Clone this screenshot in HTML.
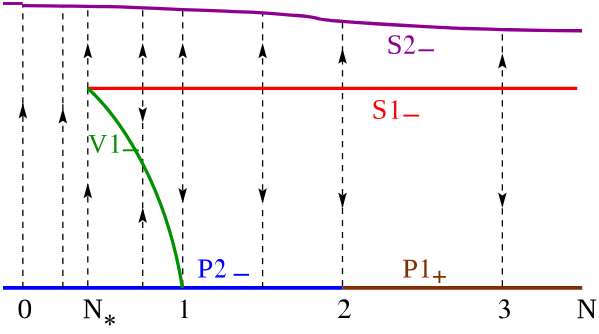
<!DOCTYPE html>
<html><head><meta charset="utf-8"><title>diagram</title>
<style>html,body{margin:0;padding:0;background:#fff;}body{width:599px;height:334px;overflow:hidden;font-family:"Liberation Serif",serif;}svg{display:block;}</style>
</head><body>
<svg width="599" height="334" viewBox="0 0 599 334">
<rect width="599" height="334" fill="#ffffff"/>
<path d="M3 287.95H342.5" fill="none" stroke="#0000ff" stroke-width="3.7"/>
<path d="M342.5 287.95H582.2" fill="none" stroke="#803000" stroke-width="3.7"/>
<path d="M22.85 5.50V7.45M22.85 13.25V19.45M22.85 25.25V31.45M22.85 37.25V43.45M22.85 49.25V55.45M22.85 61.25V67.45M22.85 73.25V79.45M22.85 85.25V91.45M22.85 97.25V103.35M22.85 103.50V107.90M22.85 113.70V119.90M22.85 125.70V131.90M22.85 137.70V143.90M22.85 149.70V155.90M22.85 161.70V167.90M22.85 173.70V179.90M22.85 185.70V191.90M22.85 197.70V203.90M22.85 209.70V215.90M22.85 221.70V227.90M22.85 233.70V239.90M22.85 245.70V251.90M22.85 257.70V263.90M22.85 269.70V275.90M22.85 281.70V287.80M22.85 116V122.1M62.85 6.00V7.45M62.85 13.25V19.45M62.85 25.25V31.45M62.85 37.25V43.45M62.85 49.25V55.45M62.85 61.25V67.45M62.85 73.25V79.45M62.85 85.25V91.45M62.85 97.25V103.35M62.85 113.70V119.90M62.85 125.70V131.90M62.85 137.70V143.90M62.85 149.70V155.90M62.85 161.70V167.90M62.85 173.70V179.90M62.85 185.70V191.90M62.85 197.70V203.90M62.85 209.70V215.90M62.85 221.70V227.90M62.85 233.70V239.90M62.85 245.70V251.90M62.85 257.70V263.90M62.85 269.70V275.90M62.85 281.70V287.80M62.85 104.2V110M87.80 10.20V16.40M87.80 22.20V28.40M87.80 34.20V40.40M87.80 46.20V52.40M87.80 58.20V64.40M87.80 70.20V76.40M87.80 82.20V88.30M87.80 88.30V94.40M87.80 100.20V106.40M87.80 112.20V118.40M87.80 124.20V130.40M87.80 136.20V142.40M87.80 148.20V154.40M87.80 160.20V166.40M87.80 172.20V178.40M87.80 184.20V190.40M87.80 196.20V202.40M87.80 208.20V214.40M87.80 220.20V226.40M87.80 232.20V238.40M87.80 244.20V250.40M87.80 256.20V262.40M87.80 268.20V274.40M87.80 280.20V286.40M142.70 10.20V16.40M142.70 22.20V28.40M142.70 34.20V40.40M142.70 46.20V52.40M142.70 58.20V64.40M142.70 70.20V76.40M142.70 82.20V88.30M142.70 88.30V94.40M142.70 100.20V106.40M142.70 112.20V118.40M142.70 122.90V129.00M142.70 134.80V141.00M142.70 146.80V153.00M142.70 158.80V165.00M142.70 166.20V172.40M142.70 178.20V184.40M142.70 190.20V196.40M142.70 202.20V208.30M142.70 209.70V215.90M142.70 221.70V227.90M142.70 233.70V239.90M142.70 245.70V251.90M142.70 257.70V263.90M142.70 269.70V275.90M142.70 281.70V287.80M182.70 10.20V16.40M182.70 22.20V28.40M182.70 34.20V40.40M182.70 46.20V52.40M182.70 58.20V64.40M182.70 70.20V76.40M182.70 82.20V88.30M182.70 88.30V94.40M182.70 100.20V106.40M182.70 112.20V118.40M182.70 124.20V130.40M182.70 136.20V142.40M182.70 148.20V154.40M182.70 160.20V166.40M182.70 172.20V178.40M182.70 184.20V190.40M182.70 196.20V202.40M182.70 208.20V214.40M182.70 220.20V226.40M182.70 232.20V238.40M182.70 244.20V250.40M182.70 256.20V262.40M182.70 268.20V274.40M182.70 280.20V286.40M262.60 12.80V16.40M262.60 22.20V28.40M262.60 34.20V40.40M262.60 46.20V52.40M262.60 58.20V64.40M262.60 70.20V76.40M262.60 82.20V88.30M262.60 88.30V94.40M262.60 100.20V106.40M262.60 112.20V118.40M262.60 124.20V130.40M262.60 136.20V142.40M262.60 148.20V154.40M262.60 160.20V166.40M262.60 172.20V178.40M262.60 184.20V190.40M262.60 196.20V202.40M262.60 204.00V204.20M262.60 210.00V216.20M262.60 222.00V228.20M262.60 234.00V240.20M262.60 246.00V252.20M262.60 258.00V264.20M262.60 270.00V276.20M262.60 282.00V287.80M342.50 22.20V28.40M342.50 34.20V40.40M342.50 46.20V52.40M342.50 58.20V64.40M342.50 70.20V76.40M342.50 82.20V88.30M342.50 93.00V99.20M342.50 105.00V111.20M342.50 117.00V123.20M342.50 129.00V135.20M342.50 141.00V147.20M342.50 153.00V159.20M342.50 165.00V171.20M342.50 177.00V183.20M342.50 189.00V195.20M342.50 201.00V207.20M342.50 208.00V214.10M342.50 219.90V226.10M342.50 231.90V238.10M342.50 243.90V250.10M342.50 255.90V262.10M342.50 267.90V274.10M342.50 279.90V286.10M502.35 34.20V40.40M502.35 46.20V52.40M502.35 58.20V64.40M502.35 70.20V76.40M502.35 82.20V88.30M502.35 88.30V94.40M502.35 100.20V106.40M502.35 112.20V118.40M502.35 124.20V130.40M502.35 136.20V142.40M502.35 148.20V154.40M502.35 160.20V166.40M502.35 172.20V178.40M502.35 184.20V190.40M502.35 196.20V202.40M502.35 208.20V214.40M502.35 220.20V226.40M502.35 232.20V238.40M502.35 244.20V250.40M502.35 256.20V262.40M502.35 268.20V274.40M502.35 280.20V286.40" fill="none" stroke="#000" stroke-width="1.3"/>
<path d="M22.85 103.10L27.10 118.40L22.85 115.60L18.60 118.40ZM62.85 108.30L67.10 123.60L62.85 120.80L58.60 123.60ZM87.80 43.00L92.05 58.30L87.80 55.50L83.55 58.30ZM87.80 183.00L92.05 198.30L87.80 195.50L83.55 198.30ZM142.70 43.00L146.95 58.30L142.70 55.50L138.45 58.30ZM142.70 122.50L146.95 107.20L142.70 110.00L138.45 107.20ZM142.70 207.60L146.95 222.90L142.70 220.10L138.45 222.90ZM182.70 43.00L186.95 58.30L182.70 55.50L178.45 58.30ZM182.70 203.20L186.95 187.90L182.70 190.70L178.45 187.90ZM262.60 43.00L266.85 58.30L262.60 55.50L258.35 58.30ZM262.60 203.60L266.85 188.30L262.60 191.10L258.35 188.30ZM342.50 48.50L346.75 63.80L342.50 61.00L338.25 63.80ZM342.50 207.90L346.75 192.60L342.50 195.40L338.25 192.60ZM502.35 53.30L506.60 68.60L502.35 65.80L498.10 68.60ZM502.35 207.90L506.60 192.60L502.35 195.40L498.10 192.60Z" fill="#000" stroke="none"/>
<path d="M3 3.5H22.8" fill="none" stroke="#900090" stroke-width="2.9"/>
<path d="M22.2 5.7C28.95 5.76 49.73 5.90 62.7 6.05C75.67 6.20 90.45 6.46 100 6.6C109.55 6.74 111.67 6.65 120 6.9C128.33 7.15 139.57 7.65 150 8.1C160.43 8.55 170.10 9.10 182.6 9.6C195.10 10.10 211.70 10.57 225 11.1C238.30 11.63 252.40 12.22 262.4 12.8C272.40 13.38 279.28 14.15 285 14.6C290.72 15.05 292.80 15.15 296.7 15.5C300.60 15.85 305.48 16.35 308.4 16.7C311.32 17.05 312.25 17.22 314.2 17.6C316.15 17.98 318.15 18.61 320.1 19.0C322.05 19.39 323.97 19.69 325.9 19.95C327.83 20.21 328.95 20.32 331.7 20.55C334.45 20.78 338.52 21.06 342.4 21.35C346.28 21.64 348.73 21.86 355 22.3C361.27 22.74 369.67 23.36 380 24.0C390.33 24.64 405.33 25.52 417 26.15C428.67 26.78 442.00 27.41 450 27.8C458.00 28.19 456.33 28.21 465 28.5C473.67 28.79 489.50 29.24 502 29.55C514.50 29.86 526.67 30.15 540 30.35C553.33 30.55 575.00 30.68 582 30.75" fill="none" stroke="#900090" stroke-width="3.3" stroke-linejoin="round"/>
<path d="M87.7 88.3H577.2" fill="none" stroke="#ff0000" stroke-width="3.2"/>
<path d="M87.75 88.3C112.8 111.0 164.1 174.9 182.55 287.9" fill="none" stroke="#009000" stroke-width="3.3"/>
<path d="M946 676Q946 -20 506 -20Q294 -20 186 158Q78 336 78 676Q78 1009 186 1186Q294 1362 514 1362Q726 1362 836 1188Q946 1013 946 676ZM762 676Q762 998 701 1140Q640 1282 506 1282Q376 1282 319 1148Q262 1014 262 676Q262 336 320 198Q378 59 506 59Q638 59 700 204Q762 350 762 676Z" transform="translate(17.33 318.19) scale(0.01464 -0.01380)" fill="#000000"/><path d="M1155 1262 975 1288V1341H1432V1288L1260 1262V0H1163L336 1206V80L516 53V0H59V53L231 80V1262L59 1288V1341H465L1155 348Z" transform="translate(82.69 318.20) scale(0.01369 -0.01387)" fill="#000000"/><path d="M394 0L118 0L118 15C197 20 212 36 212 85L212 546C212 579 203 593 180 593C169 593 151 588 132 580L111 572L111 589L291 676L299 676L299 75C299 29 318 15 394 15Z" transform="translate(177.67 318.10) scale(0.02686 -0.02744)" fill="#000000"/><path d="M474 137L420 0L29 0L29 12L208 199C292 291 322 363 322 440C322 531 264 594 179 594C110 594 69 556 45 468L31 473C56 608 124 676 237 676C341 676 412 603 412 504C412 428 375 351 283 254L128 78L350 78C402 78 426 90 462 142Z" transform="translate(337.15 317.95) scale(0.02899 -0.02766)" fill="#000000"/><path d="M43 496C78 602 142 676 241 676C330 676 388 622 388 538C388 478 362 436 290 392C370 362 431 310 431 208C431 80 330 -14 170 -14C90 -14 43 10 43 42C43 64 60 78 80 78C100 78 120 68 150 46C185 22 200 18 225 18C295 18 347 80 347 163C347 230 316 284 260 310C230 324 200 330 152 332L152 345C210 364 240 382 268 410C296 438 308 472 308 510C308 572 266 614 204 614C142 614 96 580 58 490Z" transform="translate(497.72 318.08) scale(0.02830 -0.02786)" fill="#000000"/><path d="M1155 1262 975 1288V1341H1432V1288L1260 1262V0H1163L336 1206V80L516 53V0H59V53L231 80V1262L59 1288V1341H465L1155 348Z" transform="translate(576.59 318.20) scale(0.01380 -0.01387)" fill="#000000"/><path d="M139 361H204L239 180Q276 133 366 97Q457 61 545 61Q685 61 764 132Q842 204 842 330Q842 402 812 449Q781 496 732 528Q682 561 619 584Q556 606 490 629Q423 652 360 680Q297 708 248 751Q198 794 168 858Q137 921 137 1014Q137 1174 257 1265Q377 1356 590 1356Q752 1356 942 1313V1034H877L842 1198Q740 1272 590 1272Q456 1272 380 1218Q305 1163 305 1067Q305 1002 336 959Q366 916 416 886Q465 855 528 833Q592 811 658 788Q725 764 788 734Q852 705 902 660Q951 614 982 548Q1012 483 1012 387Q1012 193 893 86Q774 -20 550 -20Q442 -20 333 -1Q224 18 139 51Z" transform="translate(386.57 53.82) scale(0.01410 -0.01376)" fill="#900090"/><path d="M474 137L420 0L29 0L29 12L208 199C292 291 322 363 322 440C322 531 264 594 179 594C110 594 69 556 45 468L31 473C56 608 124 676 237 676C341 676 412 603 412 504C412 428 375 351 283 254L128 78L350 78C402 78 426 90 462 142Z" transform="translate(403.04 53.85) scale(0.02607 -0.02759)" fill="#900090"/><path d="M139 361H204L239 180Q276 133 366 97Q457 61 545 61Q685 61 764 132Q842 204 842 330Q842 402 812 449Q781 496 732 528Q682 561 619 584Q556 606 490 629Q423 652 360 680Q297 708 248 751Q198 794 168 858Q137 921 137 1014Q137 1174 257 1265Q377 1356 590 1356Q752 1356 942 1313V1034H877L842 1198Q740 1272 590 1272Q456 1272 380 1218Q305 1163 305 1067Q305 1002 336 959Q366 916 416 886Q465 855 528 833Q592 811 658 788Q725 764 788 734Q852 705 902 660Q951 614 982 548Q1012 483 1012 387Q1012 193 893 86Q774 -20 550 -20Q442 -20 333 -1Q224 18 139 51Z" transform="translate(371.61 118.79) scale(0.01383 -0.01393)" fill="#ff0000"/><path d="M394 0L118 0L118 15C197 20 212 36 212 85L212 546C212 579 203 593 180 593C169 593 151 588 132 580L111 572L111 589L291 676L299 676L299 75C299 29 318 15 394 15Z" transform="translate(388.32 118.80) scale(0.02686 -0.02751)" fill="#ff0000"/><path d="M1456 1341V1288L1309 1262L770 -31H719L174 1262L23 1288V1341H565V1288L385 1262L791 275L1196 1262L1020 1288V1341Z" transform="translate(88.13 152.51) scale(0.01296 -0.01312)" fill="#009000"/><path d="M394 0L118 0L118 15C197 20 212 36 212 85L212 546C212 579 203 593 180 593C169 593 151 588 132 580L111 572L111 589L291 676L299 676L299 75C299 29 318 15 394 15Z" transform="translate(108.49 152.70) scale(0.02668 -0.02722)" fill="#009000"/><path d="M858 944Q858 1109 781 1180Q704 1251 522 1251H424V616H528Q697 616 778 693Q858 770 858 944ZM424 526V80L637 53V0H72V53L231 80V1262L59 1288V1341H565Q1057 1341 1057 946Q1057 740 932 633Q808 526 575 526Z" transform="translate(197.09 277.45) scale(0.01430 -0.01339)" fill="#0000ff"/><path d="M474 137L420 0L29 0L29 12L208 199C292 291 322 363 322 440C322 531 264 594 179 594C110 594 69 556 45 468L31 473C56 608 124 676 237 676C341 676 412 603 412 504C412 428 375 351 283 254L128 78L350 78C402 78 426 90 462 142Z" transform="translate(214.22 277.45) scale(0.02465 -0.02714)" fill="#0000ff"/><path d="M858 944Q858 1109 781 1180Q704 1251 522 1251H424V616H528Q697 616 778 693Q858 770 858 944ZM424 526V80L637 53V0H72V53L231 80V1262L59 1288V1341H565Q1057 1341 1057 946Q1057 740 932 633Q808 526 575 526Z" transform="translate(402.14 277.44) scale(0.01415 -0.01313)" fill="#803000"/><path d="M394 0L118 0L118 15C197 20 212 36 212 85L212 546C212 579 203 593 180 593C169 593 151 588 132 580L111 572L111 589L291 676L299 676L299 75C299 29 318 15 394 15Z" transform="translate(418.57 277.40) scale(0.02686 -0.02692)" fill="#803000"/>
<path d="M418.4 50.3H434.1" stroke="#900090" stroke-width="1.9" fill="none"/>
<path d="M403.4 115.6H419.1" stroke="#ff0000" stroke-width="1.9" fill="none"/>
<path d="M122.9 150.3H138.9" stroke="#009000" stroke-width="1.9" fill="none"/>
<path d="M233.6 274.8H249" stroke="#0000ff" stroke-width="1.9" fill="none"/>
<path d="M433.0 276.85H445.9M439.45 270.65V283.05" stroke="#803000" stroke-width="1.9" fill="none"/>
<path transform="translate(109.9 320.0) rotate(0)" d="M-0.25 0L-1.0 -4.45A1.0 1.0 0 0 1 1.0 -4.45L0.25 0Z" fill="#000"/><path transform="translate(109.9 320.0) rotate(60)" d="M-0.25 0L-1.0 -4.45A1.0 1.0 0 0 1 1.0 -4.45L0.25 0Z" fill="#000"/><path transform="translate(109.9 320.0) rotate(120)" d="M-0.25 0L-1.0 -4.45A1.0 1.0 0 0 1 1.0 -4.45L0.25 0Z" fill="#000"/><path transform="translate(109.9 320.0) rotate(180)" d="M-0.25 0L-1.0 -4.45A1.0 1.0 0 0 1 1.0 -4.45L0.25 0Z" fill="#000"/><path transform="translate(109.9 320.0) rotate(240)" d="M-0.25 0L-1.0 -4.45A1.0 1.0 0 0 1 1.0 -4.45L0.25 0Z" fill="#000"/><path transform="translate(109.9 320.0) rotate(300)" d="M-0.25 0L-1.0 -4.45A1.0 1.0 0 0 1 1.0 -4.45L0.25 0Z" fill="#000"/>
</svg>
</body></html>
